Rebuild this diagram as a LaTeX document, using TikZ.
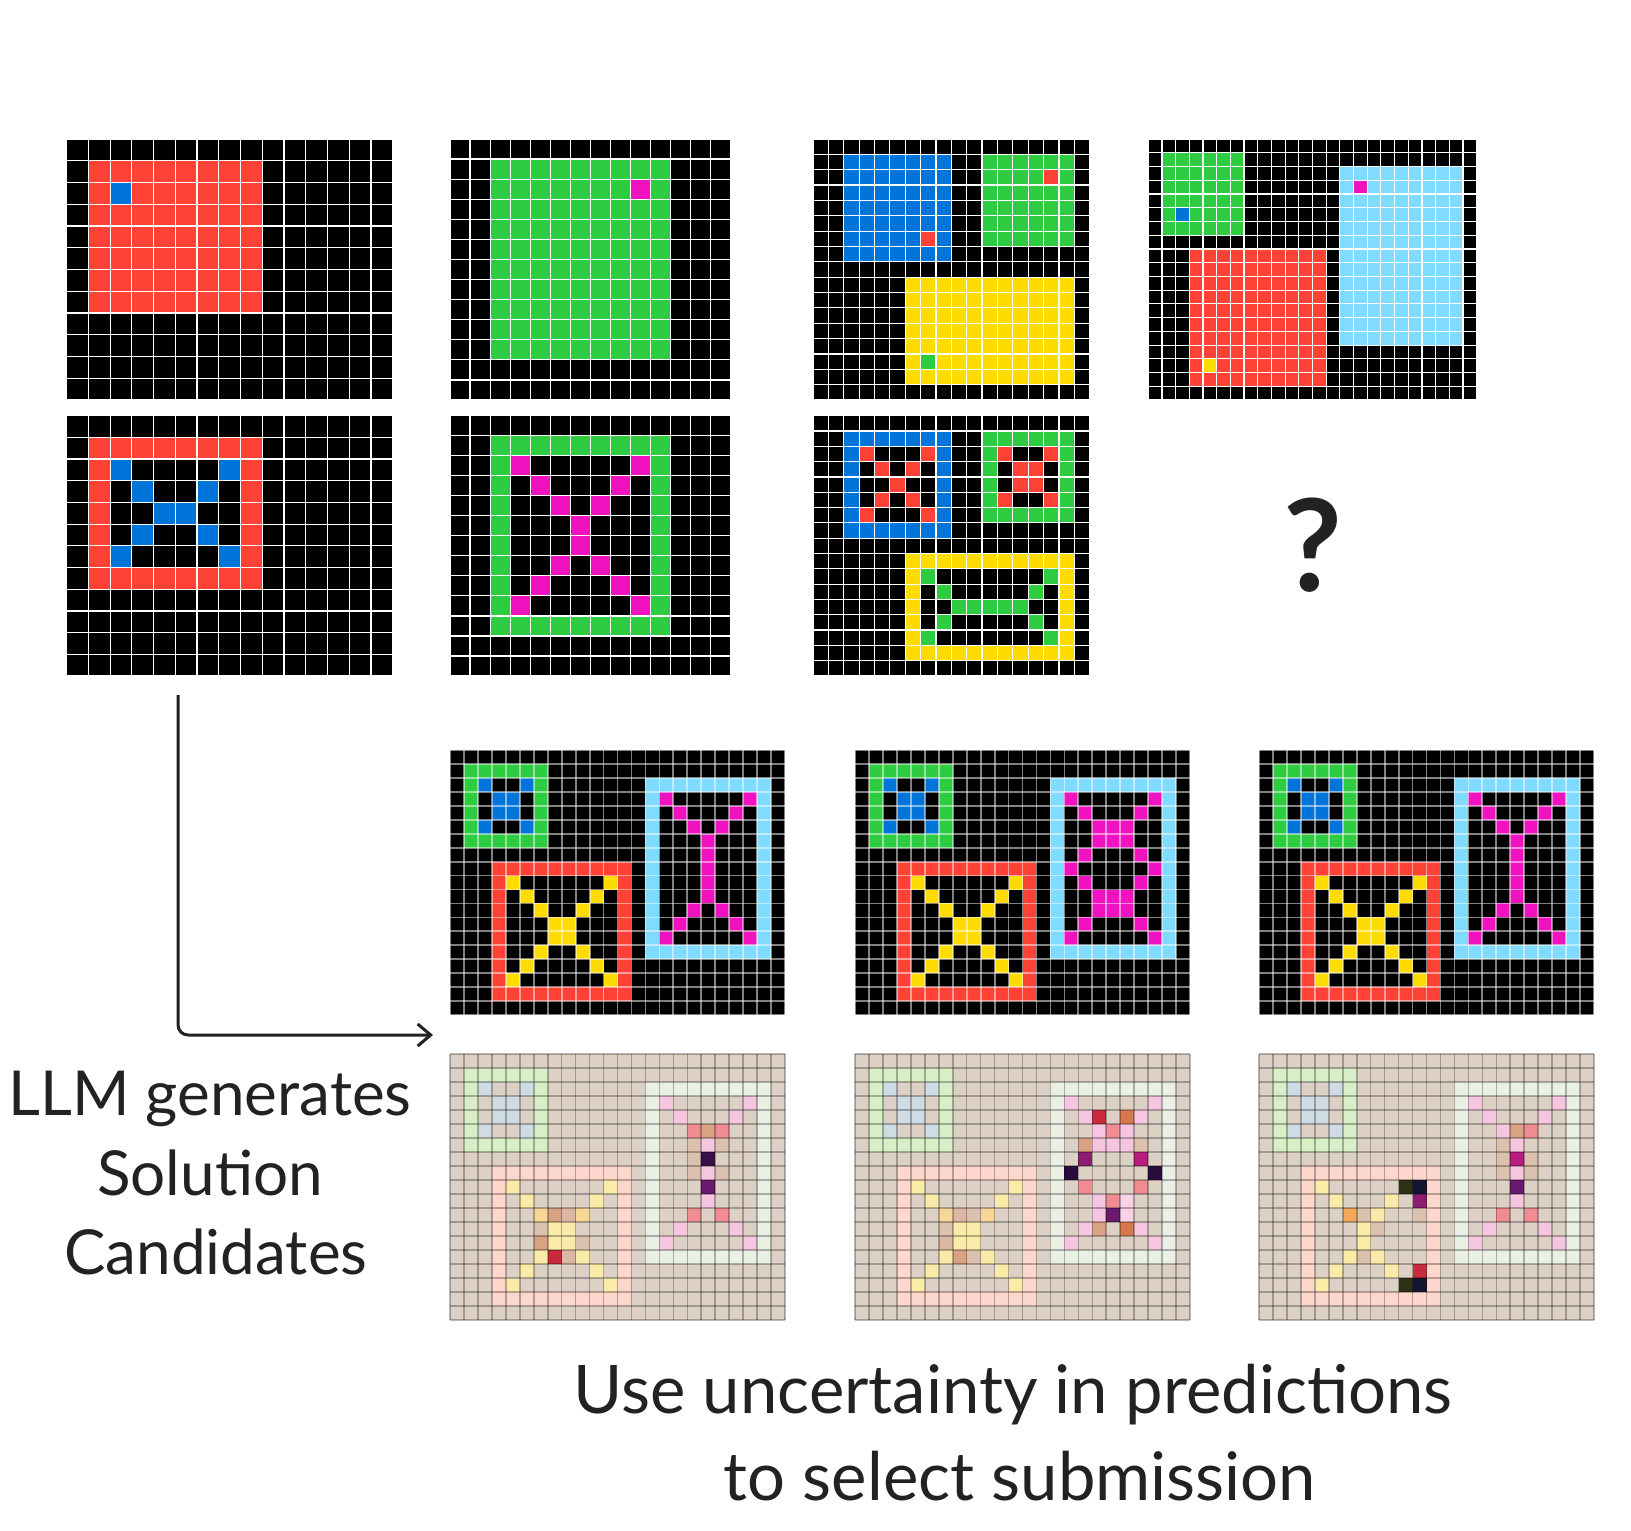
\documentclass[tikz,border=0pt]{standalone}
\usepackage{fontspec}
\setmainfont{Lato}
\usetikzlibrary{arrows.meta}
% ARC palette
\definecolor{kcb}{HTML}{0074D9}
\definecolor{kcr}{HTML}{FF4136}
\definecolor{kcg}{HTML}{2ECC40}
\definecolor{kcy}{HTML}{FFDC00}
\definecolor{kcm}{HTML}{F012BE}
\definecolor{kclb}{HTML}{7FDBFF}
% uncertainty palette
\definecolor{kubg}{HTML}{DDD0C4}
\definecolor{kpg}{HTML}{D8EEC6}
\definecolor{kpb}{HTML}{CFDCE4}
\definecolor{kpr}{HTML}{FDD6CC}
\definecolor{kplb}{HTML}{EAF0E4}
\definecolor{kyl}{HTML}{FAEBA8}
\definecolor{kpk}{HTML}{F6C6E0}
\definecolor{klpk}{HTML}{F8D2E8}
\definecolor{ksa}{HTML}{F08C92}
\definecolor{ktn}{HTML}{DCC2AE}
\definecolor{ktb}{HTML}{DCB8A4}
\definecolor{kto}{HTML}{D9A282}
\definecolor{korn}{HTML}{D8784E}
\definecolor{kdpu}{HTML}{3A0E46}
\definecolor{kpu}{HTML}{6A1A6C}
\definecolor{krdd}{HTML}{C82C3C}
\definecolor{kmgd}{HTML}{B81C80}
\definecolor{kdmg}{HTML}{8C1C70}
\definecolor{kvdk}{HTML}{2A0C3C}
\definecolor{kolv}{HTML}{2E3018}
\definecolor{knvy}{HTML}{14152E}
\definecolor{kamb}{HTML}{F4A85A}
\definecolor{kyo}{HTML}{F8D696}
\definecolor{ktxt}{HTML}{222222}
\tikzset{
  dkbg/.style={fill=black},
  dkline/.style={draw=white, line width=1.2pt},
  cdbg/.style={fill=black},
  cdline/.style={draw=white, draw opacity=0.5, line width=1.8pt},
  plbg/.style={fill=kubg},
  plline/.style={draw=black, draw opacity=0.28, line width=1.6pt},
  lbl/.style={font=\fontsize{62}{74}\selectfont, text=ktxt, anchor=base, inner sep=0pt},
  lblb/.style={font=\fontsize{67}{80}\selectfont, text=ktxt, anchor=base, inner sep=0pt},
  arr/.style={draw=ktxt, line width=3pt, rounded corners=10pt, -{Straight Barb[length=13pt,width=22pt,line width=3pt]}},
}
% #1 fill, #2 list of col/row
\newcommand\cl[2]{\foreach \c/\r in {#2} {\fill[#1] (\c,\r) rectangle ++(1,1);}}
% #1 fill, cols #2..#4, rows #3..#5
\newcommand\rc[5]{\fill[#1] (#2,#3) rectangle (#4+1,#5+1);}
% #1 name #2 x0 #3 y0 #4 cols #5 rows #6 cw #7 ch #8 prefix #9 content
\newcommand\arcgrid[9]{%
  \begin{scope}[shift={(#2,#3)}, x=#6pt, y=-#7pt]
    \coordinate (#1-nw) at (0,0);
    \coordinate (#1-se) at (#4,#5);
    \fill[#8bg] (0,0) rectangle (#4,#5);
    #9
    \foreach \i in {0,...,#4} {\draw[#8line] (\i,0) -- (\i,#5);}
    \foreach \j in {0,...,#5} {\draw[#8line] (0,\j) -- (#4,\j);}
  \end{scope}}
\newcommand\candbase{%
  \rc{kcg}{1}{1}{6}{6}\rc{black}{2}{2}{5}{5}%
  \cl{kcb}{2/2,5/2,3/3,4/3,3/4,4/4,2/5,5/5}%
  \rc{kcr}{3}{8}{12}{17}\rc{black}{4}{9}{11}{16}%
  \cl{kcy}{4/9,11/9,5/10,10/10,6/11,9/11,7/12,8/12,7/13,8/13,6/14,9/14,5/15,10/15,4/16,11/16}%
  \rc{kclb}{14}{2}{22}{14}\rc{black}{15}{3}{21}{13}}
\newcommand\palebase{%
  \rc{kpg}{1}{1}{6}{6}\rc{kubg}{2}{2}{5}{5}%
  \cl{kpb}{2/2,5/2,3/3,4/3,3/4,4/4,2/5,5/5}%
  \rc{kpr}{3}{8}{12}{17}\rc{kubg}{4}{9}{11}{16}%
  \rc{kplb}{14}{2}{22}{14}\rc{kubg}{15}{3}{21}{13}}
\begin{document}
\begin{tikzpicture}[x=1pt,y=-1pt]
\useasboundingbox (0,0) rectangle (1631,1531);
\fill[white] (0,0) rectangle (1631,1531);

% ---- training pair 1
\arcgrid{G1}{66.7}{139}{15}{12}{21.73}{21.75}{dk}{\rc{kcr}{1}{1}{8}{7}\cl{kcb}{2/2}}
\arcgrid{G2}{66.7}{415.7}{15}{12}{21.73}{21.69}{dk}{\rc{kcr}{1}{1}{8}{7}\rc{black}{2}{2}{7}{6}%
  \cl{kcb}{2/2,7/2,3/3,6/3,4/4,5/4,3/5,6/5,2/6,7/6}}
% ---- training pair 2
\arcgrid{G3}{450}{139}{14}{13}{20.05}{20.08}{dk}{\rc{kcg}{2}{1}{10}{10}\cl{kcm}{9/2}}
\arcgrid{G4}{450}{415.7}{14}{13}{20.05}{20.02}{dk}{\rc{kcg}{2}{1}{10}{10}\rc{black}{3}{2}{9}{9}%
  \cl{kcm}{3/2,9/2,4/3,8/3,5/4,7/4,6/5,6/6,5/7,7/7,4/8,8/8,3/9,9/9}}
% ---- training pair 3
\arcgrid{G5}{813}{139}{18}{17}{15.37}{15.35}{dk}{\rc{kcb}{2}{1}{8}{7}\cl{kcr}{7/6}%
  \rc{kcg}{11}{1}{16}{6}\cl{kcr}{15/2}\rc{kcy}{6}{9}{16}{15}\cl{kcg}{7/14}}
\arcgrid{G6}{813}{415.7}{18}{17}{15.37}{15.31}{dk}{\rc{kcb}{2}{1}{8}{7}\rc{black}{3}{2}{7}{6}%
  \cl{kcr}{3/2,7/2,4/3,6/3,5/4,4/5,6/5,3/6,7/6}%
  \rc{kcg}{11}{1}{16}{6}\rc{black}{12}{2}{15}{5}%
  \cl{kcr}{12/2,15/2,13/3,14/3,13/4,14/4,12/5,15/5}%
  \rc{kcy}{6}{9}{16}{15}\rc{black}{7}{10}{15}{14}%
  \cl{kcg}{7/10,15/10,8/11,14/11,9/12,10/12,11/12,12/12,13/12,8/13,14/13,7/14,15/14}}
% ---- test input
\arcgrid{G7}{1148.3}{139}{24}{19}{13.68}{13.74}{dk}{\rc{kcg}{1}{1}{6}{6}\cl{kcb}{2/5}%
  \rc{kcr}{3}{8}{12}{17}\cl{kcy}{4/16}\rc{kclb}{14}{2}{22}{14}\cl{kcm}{15/3}}
\node[font=\fontsize{128}{128}\selectfont\bfseries, text=ktxt, inner sep=0pt] (Q) at (1313,545) {?};

% ---- candidates
\arcgrid{C1}{450}{750}{24}{19}{13.96}{13.95}{cd}{\candbase
  \cl{kcm}{15/3,21/3,16/4,20/4,17/5,19/5,18/6,18/7,18/8,18/9,18/10,17/11,19/11,16/12,20/12,15/13,21/13}}
\arcgrid{C2}{855}{750}{24}{19}{13.96}{13.95}{cd}{\candbase
  \cl{kcm}{15/3,21/3,16/4,20/4,17/5,18/5,19/5,17/6,18/6,19/6,16/7,20/7,15/8,21/8,16/9,20/9,17/10,18/10,19/10,17/11,18/11,19/11,16/12,20/12,15/13,21/13}}
\arcgrid{C3}{1259}{750}{24}{19}{13.96}{13.95}{cd}{\candbase
  \cl{kcm}{15/3,21/3,16/4,20/4,17/5,19/5,18/6,18/7,18/8,18/9,18/10,17/11,19/11,16/12,20/12,15/13,21/13}}

% ---- uncertainty maps
\arcgrid{U1}{450}{1054}{24}{19}{13.96}{14}{pl}{\palebase
  \cl{kyl}{4/9,11/9,5/10,10/10,7/12,8/12,7/13,8/13,6/14,9/14,5/15,10/15,4/16,11/16}
  \cl{kyo}{6/11,9/11}\cl{kto}{7/11,6/13}\cl{ktb}{8/11,8/14}\cl{ktn}{6/12,9/13}\cl{krdd}{7/14}
  \cl{kpk}{15/3,21/3,16/4,20/4,18/6,18/8,18/10,16/12,20/12,15/13,21/13}
  \cl{ksa}{17/5,19/5,17/11,19/11}\cl{kto}{18/5}\cl{ktn}{17/6,19/6,17/7,17/8,19/8}
  \cl{kdpu}{18/7}\cl{kpu}{18/9}}
\arcgrid{U2}{855}{1054}{24}{19}{13.96}{14}{pl}{\palebase
  \cl{kyl}{4/9,11/9,5/10,10/10,7/12,8/12,7/13,8/13,6/14,9/14,5/15,10/15,4/16,11/16}
  \cl{kyo}{6/11,9/11}\cl{ktb}{7/11,6/13}\cl{ktn}{8/11,6/12,8/14}\cl{kto}{7/14}
  \cl{kpk}{15/3,21/3,16/4,20/4,17/5,19/5,17/6,18/6,19/6,17/10,17/11,16/12,20/12,15/13,21/13}
  \cl{klpk}{19/10,19/11}\cl{krdd}{17/4}\cl{korn}{19/4,19/12}\cl{ksa}{18/5,16/9,20/9,18/10}
  \cl{kto}{16/6,17/12}\cl{ktn}{20/6}\cl{kdmg}{16/7}\cl{kmgd}{20/7}\cl{kvdk}{15/8,21/8}\cl{kpu}{18/11}}
\arcgrid{U3}{1259}{1054}{24}{19}{13.96}{14}{pl}{\palebase
  \cl{kyl}{4/9,5/10,9/10,8/11,7/12,7/13,6/14,8/14,5/15,9/15,4/16}
  \cl{kamb}{6/11}\cl{ktn}{7/11,8/12,7/14,11/11}
  \cl{kolv}{10/9,10/16}\cl{knvy}{11/9,11/16}\cl{kdmg}{11/10}\cl{krdd}{11/15}
  \cl{kpk}{15/3,21/3,16/4,20/4,17/5,18/6,18/8,18/10,16/12,20/12,15/13,21/13}
  \cl{kto}{18/5}\cl{ksa}{19/5,17/11,19/11}\cl{ktn}{17/6,17/7,19/7,17/8,19/8}
  \cl{kmgd}{18/7}\cl{kpu}{18/9}}

% ---- arrow
\coordinate (AS) at (178,695);
\coordinate (AE) at (433,1035);
\draw[arr] (AS) |- (AE);

% ---- labels
\node[lbl] (L1) at (210,1115) {LLM generates};
\node[lbl] (L2) at (210,1195) {Solution};
\node[lbl] (L3) at (216,1274) {Candidates};
\node[lblb] (B1) at (1013,1413) {Use uncertainty in predictions};
\node[lblb] (B2) at (1020,1500) {to select submission};
\end{tikzpicture}
\end{document}
